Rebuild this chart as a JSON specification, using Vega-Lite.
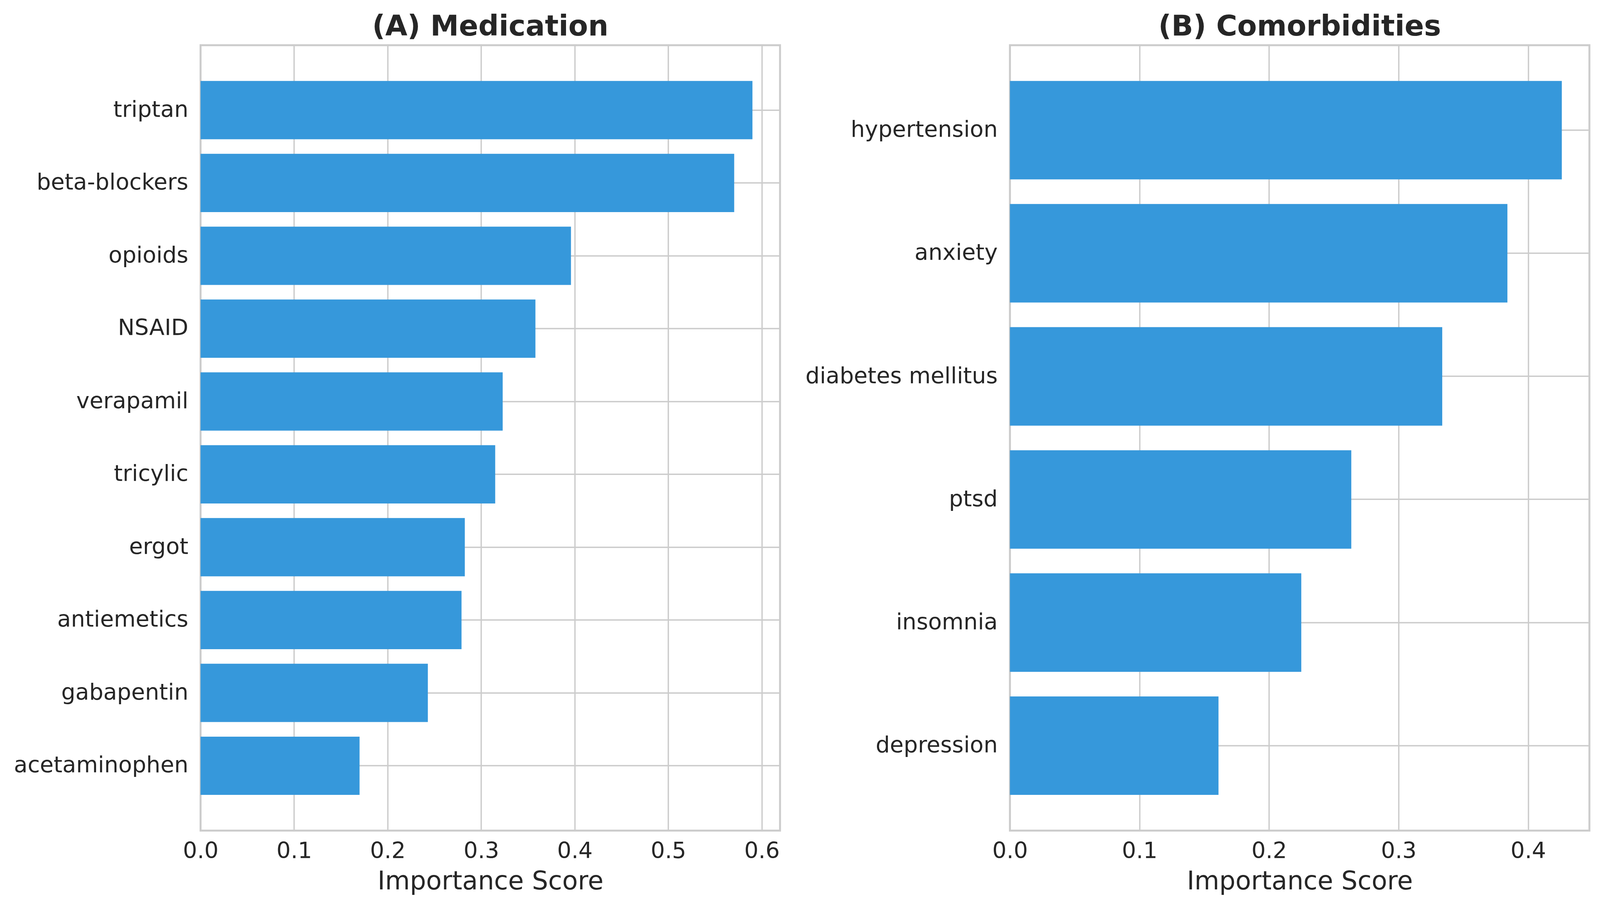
{
  "$schema": "https://vega.github.io/schema/vega-lite/v6.json",
  "padding": {"left": 15.4, "top": 28.8, "right": 20, "bottom": 20},
  "background": "white",
  "config": {
    "font": "DejaVu Sans",
    "view": {"stroke": "#cccccc", "strokeWidth": 4.95},
    "axis": {
      "labelFont": "DejaVu Sans",
      "titleFont": "DejaVu Sans",
      "labelColor": "#262626",
      "titleColor": "#262626",
      "labelFontSize": 57.3,
      "titleFontSize": 65.4,
      "titleFontWeight": "normal",
      "labelLimit": 1200,
      "labelFlush": false,
      "labelOverlap": false,
      "gridColor": "#cccccc",
      "gridWidth": 3.47,
      "gridOpacity": 1,
      "domain": false,
      "ticks": false
    },
    "title": {"font": "DejaVu Sans", "fontSize": 73.3, "fontWeight": "bold", "color": "#262626", "offset": 9.5, "anchor": "middle"}
  },
  "hconcat": [
    {
      "width": 1483.5,
      "height": 2010.7,
      "title": "(A) Medication",
      "data": {"values": [
        {"item": "triptan", "score": 0.590},
        {"item": "beta-blockers", "score": 0.5705},
        {"item": "opioids", "score": 0.396},
        {"item": "NSAID", "score": 0.358},
        {"item": "verapamil", "score": 0.323},
        {"item": "tricylic", "score": 0.315},
        {"item": "ergot", "score": 0.2825},
        {"item": "antiemetics", "score": 0.279},
        {"item": "gabapentin", "score": 0.243},
        {"item": "acetaminophen", "score": 0.170}
      ]},
      "mark": {"type": "bar", "color": "#3698db"},
      "encoding": {
        "y": {
          "field": "item", "type": "nominal", "sort": null,
          "scale": {"paddingInner": 0.2, "paddingOuter": 0.49},
          "axis": {"title": null, "grid": true, "bandPosition": 0.5, "labelPadding": 31.7, "minExtent": 495}
        },
        "x": {
          "field": "score", "type": "quantitative",
          "scale": {"domain": [0, 0.6195], "nice": false, "zero": true},
          "axis": {"title": "Importance Score", "values": [0, 0.1, 0.2, 0.3, 0.4, 0.5, 0.6], "format": ".1f", "grid": true, "labelPadding": 24.8, "titlePadding": 16.8}
        }
      }
    },
    {
      "width": 1483.5,
      "height": 2010.7,
      "title": "(B) Comorbidities",
      "data": {"values": [
        {"item": "hypertension", "score": 0.426},
        {"item": "anxiety", "score": 0.384},
        {"item": "diabetes mellitus", "score": 0.3337},
        {"item": "ptsd", "score": 0.2635},
        {"item": "insomnia", "score": 0.2249},
        {"item": "depression", "score": 0.161}
      ]},
      "mark": {"type": "bar", "color": "#3698db"},
      "encoding": {
        "y": {
          "field": "item", "type": "nominal", "sort": null,
          "scale": {"paddingInner": 0.2, "paddingOuter": 0.29},
          "axis": {"title": null, "grid": true, "bandPosition": 0.5, "labelPadding": 31.7, "minExtent": 555}
        },
        "x": {
          "field": "score", "type": "quantitative",
          "scale": {"domain": [0, 0.4473], "nice": false, "zero": true},
          "axis": {"title": "Importance Score", "values": [0, 0.1, 0.2, 0.3, 0.4], "format": ".1f", "grid": true, "labelPadding": 24.8, "titlePadding": 16.8}
        }
      }
    }
  ],
  "spacing": 28
}
